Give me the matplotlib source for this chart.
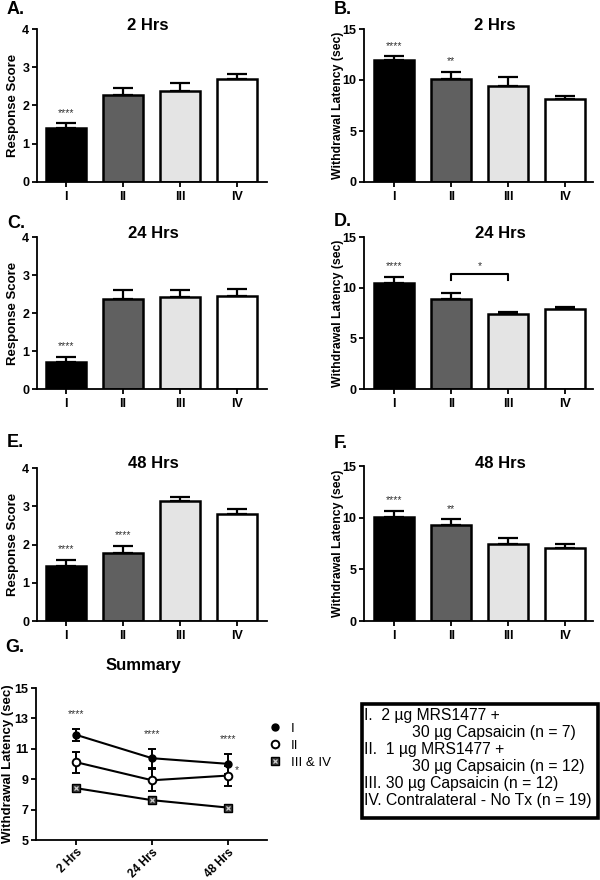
import matplotlib
matplotlib.use("Agg")
import matplotlib.pyplot as plt
from matplotlib.lines import Line2D
import numpy as np

plt.rcParams['font.family'] = ['Liberation Sans', 'DejaVu Sans']

# bar panel data (mean, SEM)
groups = ["I", "II", "III", "IV"]
bar_colors = ["#000000", "#606060", "#e4e4e4", "#ffffff"]

resp_2h = [1.40, 2.28, 2.39, 2.69]
resp_2h_err = [0.13, 0.18, 0.21, 0.14]
resp_24h = [0.72, 2.38, 2.42, 2.46]
resp_24h_err = [0.13, 0.22, 0.18, 0.16]
resp_48h = [1.45, 1.79, 3.13, 2.81]
resp_48h_err = [0.15, 0.17, 0.12, 0.12]

lat_2h = [11.93, 10.13, 9.37, 8.13]
lat_2h_err = [0.40, 0.70, 0.96, 0.30]
lat_24h = [10.50, 8.88, 7.38, 7.90]
lat_24h_err = [0.58, 0.62, 0.26, 0.23]
lat_48h = [10.05, 9.25, 7.45, 7.06]
lat_48h_err = [0.60, 0.59, 0.59, 0.39]

stars_resp_2h = ["****", "", "", ""]
stars_resp_24h = ["****", "", "", ""]
stars_resp_48h = ["****", "****", "", ""]
stars_lat_2h = ["****", "**", "", ""]
stars_lat_24h = ["****", "", "", ""]
stars_lat_48h = ["****", "**", "", ""]

# summary panel
times = ["2 Hrs", "24 Hrs", "48 Hrs"]
sum_I = [11.92, 10.38, 10.01]
sum_I_err = [0.38, 0.62, 0.64]
sum_II = [10.12, 8.93, 9.24]
sum_II_err = [0.70, 0.72, 0.66]
sum_III = [8.41, 7.62, 7.13]
sum_III_err = [0.22, 0.12, 0.20]
sum_stars = ["****", "****", "****"]

legend_lines = [
    ("I.  2 µg MRS1477 +", 0),
    ("30 µg Capsaicin (n = 7)", 1),
    ("II.  1 µg MRS1477 +", 0),
    ("30 µg Capsaicin (n = 12)", 1),
    ("III. 30 µg Capsaicin (n = 12)", 0),
    ("IV. Contralateral - No Tx (n = 19)", 0),
]

W, H = 600, 880
fig = plt.figure(figsize=(6, 8.8), dpi=100)


def px_axes(left, top, right, bottom):
    return fig.add_axes([left / W, 1 - bottom / H, (right - left) / W, (bottom - top) / H])


def style_axes(ax):
    for s in ["top", "right"]:
        ax.spines[s].set_visible(False)
    for s in ["left", "bottom"]:
        ax.spines[s].set_linewidth(1.3)
    ax.tick_params(direction="out", length=3.5, width=1.3, labelsize=9, pad=2)
    for lab in ax.get_xticklabels() + ax.get_yticklabels():
        lab.set_fontweight("bold")


def bar_panel(box, vals, errs, stars, ymax, yticks, ylabel, lab_size, title, letter, letter_xy,
              title_xy, xlim, lab_x):
    ax = px_axes(*box)
    x = np.arange(len(groups))
    ax.bar(x, vals, width=0.70, color=bar_colors, edgecolor="black", linewidth=1.8, zorder=2)
    ax.errorbar(x, vals, yerr=[np.zeros(len(errs)), errs], fmt="none", ecolor="black",
                elinewidth=1.6, capsize=7.5, capthick=1.6, zorder=1)
    for xi, v, e, s in zip(x, vals, errs, stars):
        if s:
            ax.annotate(s, (xi, v + e), xytext=(0, 4), textcoords="offset points",
                        ha="center", va="bottom", fontsize=7.5, color="#333333")
    ax.set_xlim(*xlim)
    ax.set_ylim(0, ymax)
    ax.set_yticks(yticks)
    ax.set_xticks(x)
    ax.set_xticklabels(groups)
    ax.set_ylabel(ylabel, fontsize=lab_size, fontweight="bold")
    ax.yaxis.set_label_coords(lab_x, 0.5)
    style_axes(ax)
    ax.tick_params(axis="x", pad=3)
    fig.text(letter_xy[0] / W, 1 - letter_xy[1] / H, letter, fontsize=13, fontweight="bold",
             ha="left", va="center")
    fig.text(title_xy[0] / W, 1 - title_xy[1] / H, title, fontsize=12, fontweight="bold",
             ha="center", va="center")
    return ax


xl_left = (-0.51, 3.53)
xl_right = (-0.53, 3.49)
RS, WL = "Response Score", "Withdrawal Latency (sec)"

axA = bar_panel((37, 29, 267, 182), resp_2h, resp_2h_err, stars_resp_2h, 4, [0, 1, 2, 3, 4],
                RS, 9.5, "2 Hrs", "A.", (7, 10), (148, 25), xl_left, -0.078)
axB = bar_panel((364, 29, 593, 182), lat_2h, lat_2h_err, stars_lat_2h, 15, [0, 5, 10, 15],
                WL, 8.8, "2 Hrs", "B.", (334, 10), (495, 25), xl_right, -0.088)
axC = bar_panel((37, 237, 267, 389), resp_24h, resp_24h_err, stars_resp_24h, 4, [0, 1, 2, 3, 4],
                RS, 9.5, "24 Hrs", "C.", (7, 223), (153, 233), xl_left, -0.078)
axD = bar_panel((364, 237, 593, 389), lat_24h, lat_24h_err, stars_lat_24h, 15, [0, 5, 10, 15],
                WL, 8.8, "24 Hrs", "D.", (334, 222), (500, 233), xl_right, -0.088)
axE = bar_panel((37, 468, 267, 621), resp_48h, resp_48h_err, stars_resp_48h, 4, [0, 1, 2, 3, 4],
                RS, 9.5, "48 Hrs", "E.", (7, 442), (153, 463), xl_left, -0.078)
axF = bar_panel((364, 466, 593, 621), lat_48h, lat_48h_err, stars_lat_48h, 15, [0, 5, 10, 15],
                WL, 8.8, "48 Hrs", "F.", (334, 443), (500, 463), xl_right, -0.088)

# significance bracket II vs III in D
by, bt = 11.3, 10.75
axD.plot([1, 1, 2, 2], [bt, by, by, bt], color="black", lw=1.5, clip_on=False)
axD.text(1.5, by + 0.35, "*", ha="center", va="bottom", fontsize=7.5, color="#333333")

# summary panel
axG = px_axes(36, 688, 267, 840)
xs = np.arange(len(times))
eb = dict(elinewidth=1.4, capsize=3, capthick=1.4, lw=1.5, color="black")
axG.errorbar(xs, sum_I, yerr=sum_I_err, fmt="-o", ms=5, mfc="black", mec="black", **eb)
axG.errorbar(xs, sum_II, yerr=sum_II_err, fmt="-o", ms=5.5, mfc="white", mec="black",
             mew=1.4, **eb)
axG.errorbar(xs, sum_III, yerr=sum_III_err, fmt="-s", ms=5.5, mfc="#3a3a3a", mec="black", **eb)
axG.plot(xs, sum_III, "x", ms=3.5, mew=0.9, color="#d0d0d0", zorder=5)
for xi, v, e, s in zip(xs, sum_I, sum_I_err, sum_stars):
    axG.annotate(s, (xi, v + e), xytext=(0, 7), textcoords="offset points",
                 ha="center", va="bottom", fontsize=7.5, color="#333333")
axG.annotate("*", (xs[2], sum_II[2]), xytext=(5, 0), textcoords="offset points",
             ha="left", va="bottom", fontsize=7.5, color="#333333")
axG.set_xlim(-0.526, 2.51)
axG.set_ylim(5, 15)
axG.set_yticks([5, 7, 9, 11, 13, 15])
axG.set_xticks(xs)
axG.set_xticklabels(times, rotation=45, ha="right", rotation_mode="anchor")
axG.set_ylabel(WL, fontsize=9.5, fontweight="bold")
axG.yaxis.set_label_coords(-0.095, 0.5)
style_axes(axG)
axG.tick_params(axis="x", labelsize=8.5, pad=1)
fig.text(5 / W, 1 - 647 / H, "G.", fontsize=13, fontweight="bold", ha="left", va="center")
fig.text(143 / W, 1 - 665 / H, "Summary", fontsize=12, fontweight="bold", ha="center", va="center")

# marker-only legend for the summary panel
mk_I = Line2D([], [], ls="none", marker="o", ms=5, mfc="black", mec="black")
mk_II = Line2D([], [], ls="none", marker="o", ms=5.5, mfc="white", mec="black", mew=1.4)
mk_III = Line2D([], [], ls="none", marker="s", ms=5.5, mfc="#3a3a3a", mec="black")
mk_IIIx = Line2D([], [], ls="none", marker="x", ms=3.5, mew=0.9, color="#d0d0d0")
axG.legend([mk_I, mk_II, (mk_III, mk_IIIx)], ["I", "II", "III & IV"],
           loc="upper left", bbox_to_anchor=(262 / W, 1 - 716 / H),
           bbox_transform=fig.transFigure, frameon=False, fontsize=9.5,
           handlelength=1.0, handletextpad=0.7, labelspacing=0.35, borderpad=0)

# group key box
box = plt.Rectangle((362 / W, 1 - 818 / H), (598 - 362) / W, (818 - 704) / H,
                    transform=fig.transFigure, fill=False, edgecolor="black", lw=2.6)
fig.add_artist(box)
for i, (line, indent) in enumerate(legend_lines):
    xpos = 412 if indent else 364
    fig.text(xpos / W, 1 - (715 + i * 17) / H, line, fontsize=11.3, ha="left", va="center")

fig.savefig("out.png", dpi=100)
